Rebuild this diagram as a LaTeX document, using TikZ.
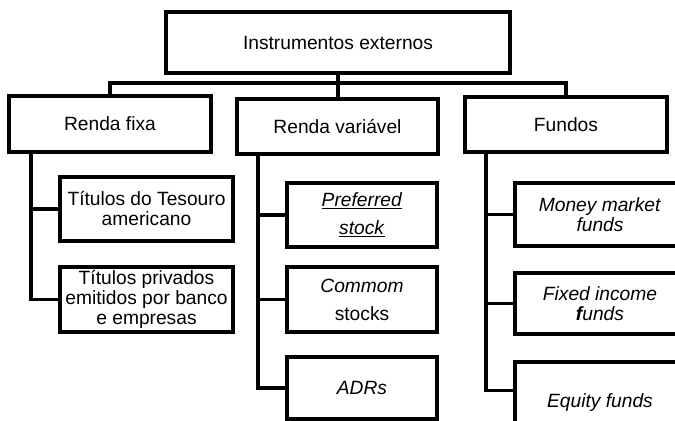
\documentclass[tikz,border=0pt]{standalone}
\usepackage{fontspec}
\setmainfont{Liberation Sans}
\begin{document}
\begin{tikzpicture}[x=0.75pt,y=-0.75pt,
  box/.style={draw, line width=2.5pt, inner sep=0pt, align=center,
    font=\fontsize{14.4}{15}\selectfont},
  conn/.style={line width=2.5pt}]
\useasboundingbox (0,0) rectangle (675,421);
\clip (0,0) rectangle (675,421);
% level 0
\node[box, minimum width={344*0.75pt}, minimum height={61*0.75pt}] (top) at (338,42.5) {Instrumentos externos};
% level 1
\node[box, minimum width={202*0.75pt}, minimum height={56*0.75pt}] (rf) at (110,124) {Renda fixa};
\node[box, minimum width={201*0.75pt}, minimum height={55*0.75pt}] (rv) at (337.5,126.5) {Renda variável};
\node[box, minimum width={202*0.75pt}, minimum height={55*0.75pt}] (fu) at (566,124.5) {Fundos};
% level 2 - renda fixa
\node[box, minimum width={173*0.75pt}, minimum height={64*0.75pt}] (t1) at (146.5,209) {Títulos do Tesouro\\americano};
\node[box, minimum width={173*0.75pt}, minimum height={65*0.75pt}] (t2) at (146.5,299.5) {Títulos privados\\emitidos por banco\\e empresas};
% level 2 - renda variavel
\node[box, minimum width={150*0.75pt}, minimum height={64*0.75pt}] (p1) at (362,215) {\underline{\textit{Preferred}}\\[6pt]\underline{\textit{stock}}};
\node[box, minimum width={150*0.75pt}, minimum height={65*0.75pt}] (p2) at (362,299.5) {\textit{Commom}\\[6pt]stocks};
\node[box, minimum width={150*0.75pt}, minimum height={62*0.75pt}] (p3) at (362,388) {\textit{ADRs}};
% level 2 - fundos
\node[box, minimum width={170*0.75pt}, minimum height={63*0.75pt}] (f1) at (600,214.5) {\textit{Money market}\\\textit{funds}};
\node[box, minimum width={170*0.75pt}, minimum height={61*0.75pt}] (f2) at (600,303.5) {\textit{Fixed income}\\\textit{\textbf{f}unds}};
\node[box, minimum width={170*0.75pt}, minimum height={82*0.75pt}] (f3) at (600,403) {\textit{Equity funds}};
% connectors level 0 -> 1
\draw[conn] (top.south) -- (top.south |- 0,83) coordinate (bus);
\draw[conn] (rf.north) |- (bus) -| (fu.north);
\draw[conn] (bus) -- (bus |- rv.north);
% renda fixa children
\draw[conn] (rf.south -| 31,0) |- (t2.west);
\draw[conn] (t1.west -| 31,0) -- (t1.west);
% renda variavel children
\draw[conn] (rv.south -| 258,0) |- (p3.west);
\draw[conn] (p1.west -| 258,0) -- (p1.west);
\draw[conn] (p2.west -| 258,0) -- (p2.west);
% fundos children
\draw[conn] (fu.south -| 486,0) |- ([yshift=-22.5pt]f3.north west);
\draw[conn] (f1.west -| 486,0) -- (f1.west);
\draw[conn] (f2.west -| 486,0) -- (f2.west);
\end{tikzpicture}
\end{document}
